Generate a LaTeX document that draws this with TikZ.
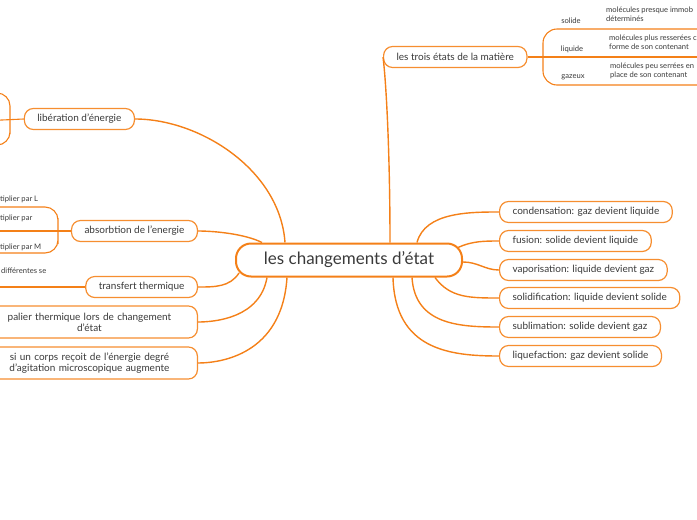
\documentclass[tikz,border=0pt]{standalone}
\usepackage{fontspec}
\setmainfont{Lato}
\begin{document}
\begin{tikzpicture}[x=1pt, y=-1pt, font=\fontsize{10}{11}\selectfont,
  leaf/.style={draw=boxOrange, line width=1.2pt, rounded corners=9pt, fill=white,
    text=ink, inner xsep=13pt, inner ysep=0pt, minimum height=21pt},
  branch/.style={draw=lineOrange, line width=1.4pt},
  twig/.style={draw=lineOrange, line width=1.1pt},
  small/.style={text=ink, font=\fontsize{7.6}{9}\selectfont, inner sep=0pt}]

  \definecolor{lineOrange}{RGB}{244,128,24}
  \definecolor{boxOrange}{RGB}{246,142,48}
  \definecolor{ink}{RGB}{58,58,58}

% page
\useasboundingbox (0,0) rectangle (697,520);
\clip (0,0) rectangle (697,520);

% central topic
\node[draw=lineOrange, line width=2pt, rounded corners=15pt, minimum width=226pt,
  minimum height=33pt, text=ink, font=\fontsize{17}{20}\selectfont]
  (main) at (349,260) {les changements d’état};

% right side
\node[leaf, anchor=west] (trois) at (383,57) {les trois états de la matière};
\node[leaf, anchor=west] (cond)  at (499,212) {condensation: gaz devient liquide};
\node[leaf, anchor=west] (fus)   at (499,241) {fusion: solide devient liquide};
\node[leaf, anchor=west] (vap)   at (499,270) {vaporisation: liquide devient gaz};
\node[leaf, anchor=west] (sol)   at (499,298) {solidification: liquide devient solide};
\node[leaf, anchor=west] (subl)  at (499,327) {sublimation: solide devient gaz};
\node[leaf, anchor=west] (liq)   at (499,356) {liquefaction: gaz devient solide};

% left side
\node[leaf, anchor=east] (lib)  at (135,119) {libération d’énergie};
\node[leaf, anchor=east] (abs)  at (198,231) {absorbtion de l’energie};
\node[leaf, anchor=east] (trans) at (198,287) {transfert thermique};
\node[leaf, anchor=east, text width=190pt, align=center, minimum height=32pt]
  (pal) at (198,322) {palier thermique lors de changement\\d’état};
\node[leaf, anchor=east, text width=190pt, align=center, minimum height=32pt]
  (corps) at (198,363) {si un corps reçoit de l’énergie degré\\d’agitation microscopique augmente};

% the three states
\node[small] (solide) at (571,21) {solide};
\node[small] (liquide) at (572,49) {liquide};
\node[small] (gazeux) at (573,77) {gazeux};
\node[small, anchor=north west, align=left] (solideTxt) at (606,7) {molécules presque immob\\déterminés};
\node[small, anchor=north west, align=left] (liquideTxt) at (609,35) {molécules plus resserées c\\forme de son contenant};
\node[small, anchor=north west, align=left] (gazeuxTxt) at (610,63) {molécules peu serrées en\\place de son contenant};
\coordinate (solEnd) at (700,29);
\coordinate (liqEnd) at (700,57);
\coordinate (gazEnd) at (700,85);
\draw[twig] (trois.east) -- (liqEnd);
\draw[twig, rounded corners=14pt] (solEnd) -| (543,57) |- (gazEnd);

% children cut by the page edge
\node[small, anchor=west] (mulL) at (0,199) {tiplier par L};
\node[small, anchor=west] (mulC) at (0,218) {tiplier par};
\node[small, anchor=west] (mulM) at (0,247) {tiplier par M};
\node[small, anchor=west] (diff) at (1,271) {différentes se};
\coordinate (libA) at (-20,93);
\coordinate (libB) at (-20,121);
\coordinate (libC) at (-20,145);
\coordinate (absA) at (-20,207);
\coordinate (absJ) at (58,231);
\coordinate (absB) at (-20,231);
\coordinate (absC) at (-20,253);
\coordinate (transA) at (-20,287);
\draw[twig] (lib.west) -- (libB);
\draw[twig, rounded corners=13pt] (libA) -| (10,121) |- (libC);
\draw[branch] (abs.west) -- (absJ);
\draw[twig] (absJ) -- (absB);
\draw[twig, rounded corners=13pt] (absA) -| (absJ) |- (absC);
\draw[twig] (trans.west) -- (transA);

% connectors from the central topic
\draw[branch] ([xshift=-64pt]main.north) .. controls (280,170) and (200,119) .. (lib.east);
\draw[branch] ([xshift=-87pt]main.north) .. controls (245,234) and (215,231) .. (abs.east);
\draw[branch] ([xshift=4pt, yshift=-13pt]main.west) .. controls (230,287) and (215,287) .. (trans.east);
\draw[branch] ([xshift=-82pt]main.south) .. controls (260,318) and (215,322) .. (pal.east);
\draw[branch] ([xshift=-62pt]main.south) .. controls (282,355) and (220,363) .. (corps.east);
\draw[branch] ([xshift=41pt]main.north) .. controls (390,150) and (386,80) .. (trois.west);
\draw[branch] ([xshift=68pt]main.north) .. controls (425,212) and (470,212) .. (cond.west);
\draw[branch] ([xshift=-5pt, yshift=-5pt]main.north east) .. controls (472,241) and (485,241) .. (fus.west);
\draw[branch] ([yshift=-2pt]main.east) .. controls (478,262) and (485,270) .. (vap.west);
\draw[branch] ([xshift=86pt]main.south) .. controls (450,298) and (470,298) .. (sol.west);
\draw[branch] ([xshift=63pt]main.south) .. controls (415,325) and (460,327) .. (subl.west);
\draw[branch] ([xshift=44pt]main.south) .. controls (395,350) and (450,356) .. (liq.west);

\end{tikzpicture}
\end{document}
